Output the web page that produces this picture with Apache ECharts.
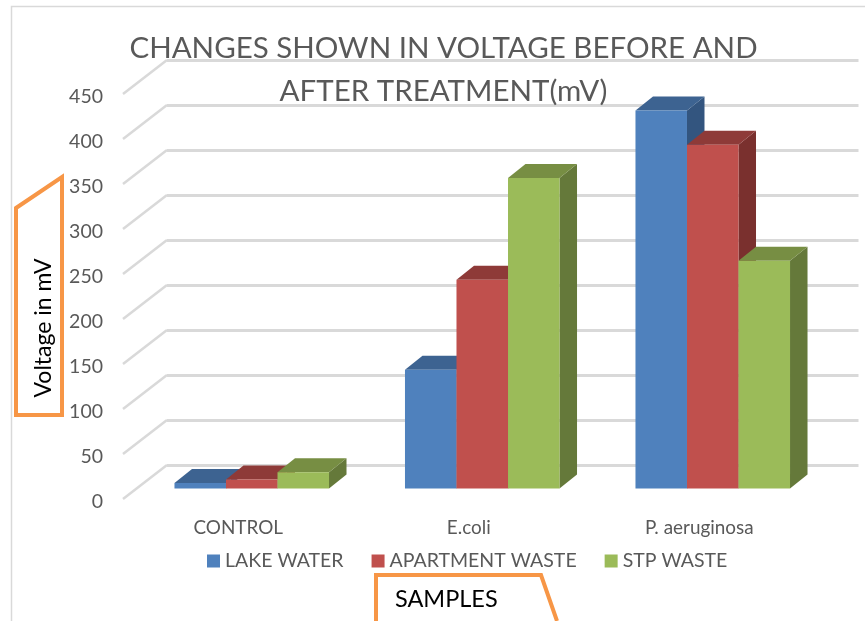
<!DOCTYPE html>
<html>
<head>
<meta charset="utf-8">
<title>Voltage chart</title>
<script src="https://cdn.jsdelivr.net/npm/echarts@6/dist/echarts.min.js"></script>
<style>
html, body { margin: 0; padding: 0; background: #fff; }
#chart { width: 865px; height: 621px; }
</style>
</head>
<body>
<div id="chart"></div>
<script>
var categories = ['CONTROL', 'E.coli', 'P. aeruginosa'];
var lakeWater = [6, 132, 420];
var apartmentWaste = [10, 232, 382];
var stpWaste = [18, 345, 253];
var yTicks = [0, 50, 100, 150, 200, 250, 300, 350, 400, 450];

var FONT = 'Lato';
var TEXT = '#595959';
var GRID_LINE = '#d9d9d9';

// oblique offsets of the fake 3d look
var WALL_DX = 44, WALL_DY = -34;
var BAR_DX = 17.5, BAR_DY = -14;
var PLANE_W = 691.5, PLANE_H = 405;

var chart = echarts.init(document.getElementById('chart'));

function plainX(i) {
    return {
        type: 'category', gridIndex: i, data: categories,
        axisLine: { show: false }, axisTick: { show: false },
        axisLabel: { show: false }, splitLine: { show: false }
    };
}

function plainY(i) {
    return {
        type: 'value', gridIndex: i, min: 0, max: 450, interval: 50,
        axisLine: { show: false }, axisTick: { show: false },
        axisLabel: { show: false }, splitLine: { show: false }
    };
}

// grid 0 back wall, grid 1 only carries the labels, grid 2 plane of the bars
var xBack = plainX(0), yBack = plainY(0);
yBack.splitLine = { show: true, lineStyle: { color: GRID_LINE, width: 3 } };

var xFront = plainX(1), yFront = plainY(1);
xFront.axisLabel = { show: true, color: TEXT, fontFamily: FONT, fontSize: 18.9, margin: 17 };
yFront.axisLabel = { show: true, color: TEXT, fontFamily: FONT, fontSize: 19.5, margin: 20 };

function barSeries(name, values, index, front, top, side) {
    return {
        type: 'custom',
        name: name,
        xAxisIndex: 2,
        yAxisIndex: 2,
        z: 3 + index,
        itemStyle: { color: front },
        data: values.map(function(v, i) { return [i, v]; }),
        renderItem: function(params, api) {
            var band = api.size([1, 0])[0];
            var w = band * 0.2235;
            var c = api.coord([api.value(0), api.value(1)]);
            var y0 = api.coord([api.value(0), 0])[1];
            var x = c[0] + (index - 1.5) * w;
            var y = c[1];
            return {
                type: 'group',
                children: [
                    { type: 'polygon', shape: { points: [[x + w, y], [x + w + BAR_DX, y + BAR_DY], [x + w + BAR_DX, y0 + BAR_DY], [x + w, y0]] }, style: { fill: side } },
                    { type: 'polygon', shape: { points: [[x, y], [x + BAR_DX, y + BAR_DY], [x + w + BAR_DX, y + BAR_DY], [x + w, y]] }, style: { fill: top } },
                    { type: 'rect', shape: { x: x, y: y, width: w, height: y0 - y }, style: { fill: front } }
                ]
            };
        }
    };
}

chart.setOption({
    animation: false,
    backgroundColor: '#fff',
    textStyle: { fontFamily: FONT },
    title: {
        text: 'CHANGES SHOWN IN VOLTAGE BEFORE AND\nAFTER TREATMENT(mV)',
        left: 438.5,
        top: 22,
        textAlign: 'center',
        z: 8,
        textStyle: { color: TEXT, fontFamily: FONT, fontSize: 29.5, fontWeight: 'normal', lineHeight: 43 }
    },
    legend: {
        left: 207,
        top: 551,
        padding: 0,
        icon: 'rect',
        itemWidth: 13,
        itemHeight: 13,
        itemGap: 28,
        textStyle: { color: TEXT, fontFamily: FONT, fontSize: 19.5 },
        data: ['LAKE WATER', 'APARTMENT WASTE', 'STP WASTE']
    },
    grid: [
        { left: 123 + WALL_DX, top: 94 + WALL_DY, width: PLANE_W, height: PLANE_H },
        { left: 123, top: 96.5, width: PLANE_W, height: PLANE_H },
        { left: 136.5, top: 83.5, width: PLANE_W, height: PLANE_H }
    ],
    xAxis: [xBack, xFront, plainX(2)],
    yAxis: [yBack, yFront, plainY(2)],
    series: [
        {
            type: 'custom',
            xAxisIndex: 0,
            yAxisIndex: 0,
            z: 1,
            data: yTicks.map(function(v) { return [0, v]; }),
            renderItem: function(params, api) {
                var x = params.coordSys.x;
                var y = api.coord([0, api.value(1)])[1];
                return {
                    type: 'line',
                    shape: { x1: x - WALL_DX, y1: y - WALL_DY, x2: x, y2: y },
                    style: { stroke: GRID_LINE, lineWidth: 2.5 }
                };
            }
        },
        barSeries('LAKE WATER', lakeWater, 0, '#4f81bd', '#3d6391', '#33557f'),
        barSeries('APARTMENT WASTE', apartmentWaste, 1, '#c0504d', '#8e3a38', '#7a302e'),
        barSeries('STP WASTE', stpWaste, 2, '#9bbb59', '#778e43', '#65793a')
    ],
    graphic: [
        { type: 'polyline', z: 0, shape: { points: [[11.5, 621], [11.5, 6.5], [865, 6.5]] }, style: { fill: null, stroke: GRID_LINE, lineWidth: 1.5 } },
        { type: 'polygon', z: 9, shape: { points: [[16, 208], [62, 177], [62, 415], [16, 415]] }, style: { fill: 'rgba(255,255,255,0)', stroke: '#f79646', lineWidth: 4 } },
        { type: 'text', z: 10, x: 44, y: 328, rotation: Math.PI / 2, style: { text: 'Voltage in mV', fill: '#000', font: '23px Lato', textAlign: 'center', textVerticalAlign: 'middle' } },
        { type: 'polyline', z: 9, shape: { points: [[376, 621], [376, 575], [541, 575], [557, 621]] }, style: { fill: null, stroke: '#f79646', lineWidth: 4 } },
        { type: 'text', z: 10, x: 395, y: 599, style: { text: 'SAMPLES', fill: '#000', font: '23.5px Lato', textAlign: 'left', textVerticalAlign: 'middle' } }
    ]
});
</script>
</body>
</html>
